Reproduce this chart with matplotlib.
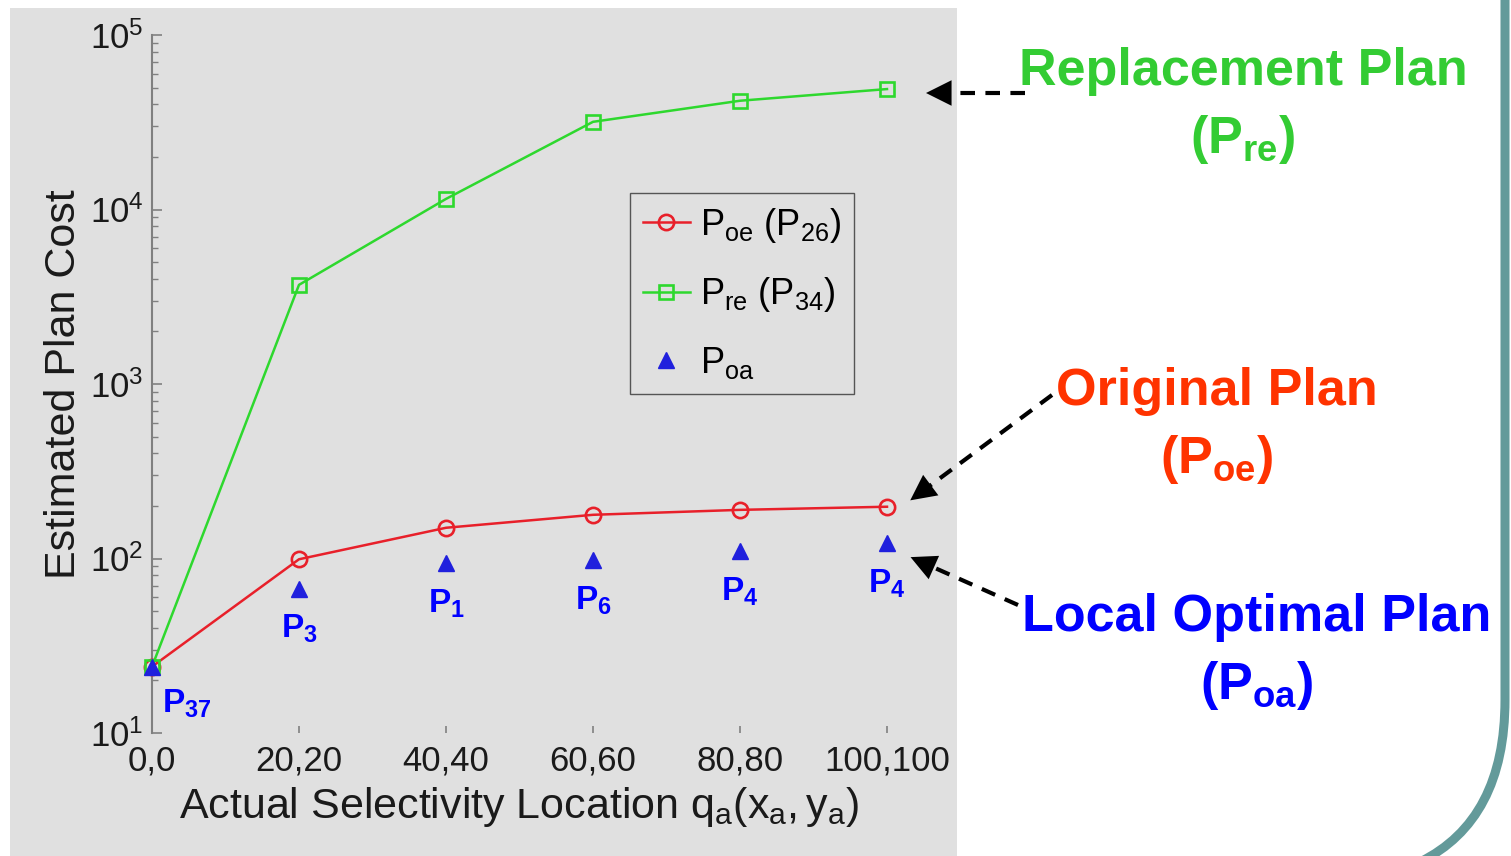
import matplotlib
matplotlib.use("Agg")
import matplotlib.pyplot as plt
from matplotlib.patches import Rectangle, PathPatch, FancyArrowPatch
from matplotlib.path import Path
from matplotlib.lines import Line2D
from matplotlib.ticker import LogLocator, NullFormatter

plt.rcParams['font.family'] = ['Liberation Sans', 'DejaVu Sans']
plt.rcParams['mathtext.fontset'] = 'custom'
plt.rcParams['mathtext.rm'] = 'Liberation Sans'
plt.rcParams['mathtext.it'] = 'Liberation Sans:italic'
plt.rcParams['mathtext.bf'] = 'Liberation Sans:bold'

# ---- data ----
x_pos = [0, 20, 40, 60, 80, 100]
x_labels = ['0,0', '20,20', '40,40', '60,60', '80,80', '100,100']
cost_oe = [24, 99, 150, 178, 190, 198]
cost_re = [24, 3700, 11500, 31800, 42000, 49000]
cost_oa = [24, 67, 94, 98, 110, 122]
oa_plan_labels = ['37', '3', '1', '6', '4', '4']

W, H = 1511, 856
fig = plt.figure(figsize=(W / 100, H / 100), dpi=100)
fig.patch.set_facecolor('white')

def fx(x):
    return x / W

def fy(y):
    return 1 - y / H

# gray panel
fig.add_artist(Rectangle((fx(10), fy(856)), fx(957) - fx(10), fy(8) - fy(856),
                         transform=fig.transFigure, facecolor='#e0e0e0',
                         edgecolor='none', zorder=0))

# teal slide border
verts = [(fx(1505), fy(-5)), (fx(1505), fy(700)),
         (fx(1505), fy(820)), (fx(1420), fy(862))]
codes = [Path.MOVETO, Path.LINETO, Path.CURVE3, Path.CURVE3]
fig.add_artist(PathPatch(Path(verts, codes), transform=fig.transFigure,
                         facecolor='none', edgecolor='#639a9a', lw=6.5, zorder=1))

ax = fig.add_axes([fx(152), fy(733), fx(887) - fx(152), fy(35) - fy(733)])
ax.patch.set_visible(False)
ax.set_yscale('log')
ax.set_ylim(10, 1e5)
ax.set_xlim(0, 100)

red = '#e8202a'
green = '#2ed82e'
blue = '#2020dd'

ax.plot(x_pos, cost_oe, '-o', color=red, lw=1.8, mfc='none', mec=red,
        ms=11, mew=1.9, clip_on=False, zorder=3, label=r'$\mathregular{P_{oe}\ (P_{26})}$')
ax.plot(x_pos, cost_re, '-s', color=green, lw=1.8, mfc='none', mec=green,
        ms=10, mew=1.9, clip_on=False, zorder=3, label=r'$\mathregular{P_{re}\ (P_{34})}$')
ax.plot(x_pos, cost_oa, '^', color=blue, ms=12, ls='none', clip_on=False,
        zorder=4, label=r'$\mathregular{P_{oa}}$')

# plan labels
for i, (xv, yv, lab) in enumerate(zip(x_pos, cost_oa, oa_plan_labels)):
    if i == 0:
        off = (25, -27)
    else:
        off = (0, -29)
    ax.annotate(r'$\mathbf{P_{%s}}$' % lab, xy=(xv, yv), xytext=off,
                textcoords='offset points', ha='center', va='center',
                color='#0000ff', fontsize=24)

# spines and ticks
for s in ['top', 'right', 'bottom']:
    ax.spines[s].set_visible(False)
ax.spines['left'].set_color('#808080')
ax.spines['left'].set_linewidth(1.5)
ax.set_xticks(x_pos)
ax.set_xticklabels(x_labels)
ax.tick_params(axis='x', direction='in', length=5, width=1.2, color='#808080',
               labelsize=25, pad=8, labelcolor='#1a1a1a')
ax.tick_params(axis='y', which='major', direction='in', length=7, width=1.2,
               color='#808080', labelsize=25, pad=6, labelcolor='#1a1a1a')
ax.tick_params(axis='y', which='minor', direction='in', length=4, width=1.0,
               color='#808080')
ax.yaxis.set_major_locator(LogLocator(base=10, numticks=10))
ax.yaxis.set_minor_locator(LogLocator(base=10, subs=range(2, 10), numticks=20))
ax.yaxis.set_minor_formatter(NullFormatter())

ax.set_xlabel(r'Actual Selectivity Location $\mathregular{q_a(x_a,y_a)}$',
              fontsize=31, color='#1a1a1a', labelpad=6)
ax.set_ylabel('Estimated Plan Cost', fontsize=31, color='#1a1a1a', labelpad=4)

leg = ax.legend(loc='upper left',
                bbox_to_anchor=((630 - 152) / (887 - 152), (733 - 193) / (733 - 35)),
                fontsize=26, frameon=True, fancybox=False, handlelength=1.3,
                handletextpad=0.3, borderpad=0.35, labelspacing=0.85,
                borderaxespad=0)
leg.get_frame().set_facecolor('#e0e0e0')
leg.get_frame().set_edgecolor('#555555')
leg.get_frame().set_linewidth(1.0)
leg.get_frame().set_alpha(1)

# right-side annotations
def dashed_arrow(x0, y0, x1, y1):
    fig.add_artist(Line2D([fx(x0), fx(x1 + (x0 - x1) * 0.1)], [fy(y0), fy(y1 + (y0 - y1) * 0.1)],
                          transform=fig.transFigure,
                          color='black', lw=3, ls=(0, (3.5, 2.5)), zorder=5))
    fig.add_artist(FancyArrowPatch(
        (fx(x1 + (x0 - x1) * 0.05), fy(y1 + (y0 - y1) * 0.05)), (fx(x1), fy(y1)),
        transform=fig.transFigure, arrowstyle='-|>', mutation_scale=46,
        color='black', lw=0, zorder=6))

dashed_arrow(1025, 93, 926, 93)
dashed_arrow(1052, 395, 908, 502)
dashed_arrow(1018, 605, 908, 556)

fig.text(fx(1243), fy(72), 'Replacement Plan', color='#33cc33', fontsize=37.5,
         fontweight='bold', ha='center', va='center')
fig.text(fx(1243), fy(140), r'$\mathbf{(P_{re})}$', color='#33cc33', fontsize=37.5,
         ha='center', va='center')
fig.text(fx(1217), fy(392), 'Original Plan', color='#ff3300', fontsize=37.5,
         fontweight='bold', ha='center', va='center')
fig.text(fx(1217), fy(460), r'$\mathbf{(P_{oe})}$', color='#ff3300', fontsize=37.5,
         ha='center', va='center')
fig.text(fx(1257), fy(618), 'Local Optimal Plan', color='#0000ff', fontsize=37.5,
         fontweight='bold', ha='center', va='center')
fig.text(fx(1257), fy(686), r'$\mathbf{(P_{oa})}$', color='#0000ff', fontsize=37.5,
         ha='center', va='center')

fig.savefig('out.png', dpi=100)
